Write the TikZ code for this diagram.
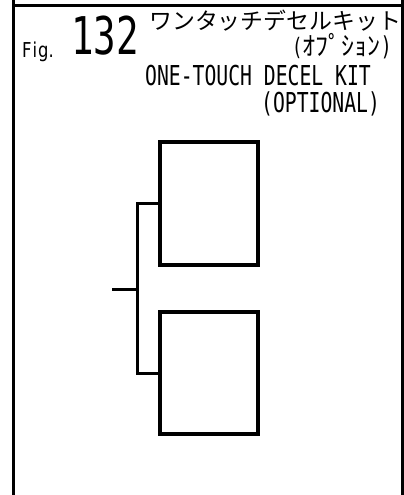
\documentclass[tikz,border=0pt]{standalone}
\usepackage{fontspec}
\newfontfamily\plotfont[FakeStretch=0.72]{DejaVu Sans Mono}
\newfontfamily\figfont[FakeStretch=0.8]{DejaVu Sans}
\newfontfamily\cjk{Noto Sans CJK JP}
\usetikzlibrary{positioning}

\tikzset{
    frameline/.style={line width=3pt},
    kitbox/.style={draw,line width=3.5pt,minimum width=98pt,inner sep=0pt},
    branch/.style={line width=3pt},
    label/.style={inner sep=0pt,anchor=base west},
}

\begin{document}
\begin{tikzpicture}[x=1pt,y=-1pt]
    \useasboundingbox (0,0) rectangle (404,495);
    % cell frame
    \draw[frameline] (13.5,0) -- (13.5,495);
    \draw[frameline] (402.5,0) -- (402.5,495);
    \draw[frameline] (13.5,6) -- (402.5,6);

    % heading
    \node[label] (fig) at (22,57) {\figfont\fontsize{20.5}{22}\selectfont F\kern1pt i\kern1pt g.};
    \node[label] (num) at (71,55) {\plotfont\fontsize{52}{54}\selectfont 132};
    \node[label] (jp) at (149,30) {\cjk\fontsize{22.9}{25}\selectfont ワンタッチデセルキット};
    \node[label] (jpopt) at (292,56) {\plotfont\fontsize{24}{26}\selectfont(\cjk\fontsize{26}{28}\selectfont ｵﾌﾟｼｮﾝ\plotfont)};
    \node[label] (en) at (145,85) {\plotfont\fontsize{27.4}{30}\selectfont ONE-TOUCH DECEL KIT};
    \node[label] (enopt) at (261,112) {\plotfont\fontsize{27.4}{30}\selectfont (OPTIONAL)};

    % kit parts
    \node[kitbox,minimum height=123pt] (upper) at (209,203.5) {};
    \node[kitbox,minimum height=122pt] (lower) at (209,373) {};

    \coordinate (tee) at (137,289);
    \coordinate (stub) at (112,289);
    \draw[branch] (upper.west) -| (tee) |- (lower.west);
    \draw[branch] (stub) -- (tee);
\end{tikzpicture}
\end{document}
